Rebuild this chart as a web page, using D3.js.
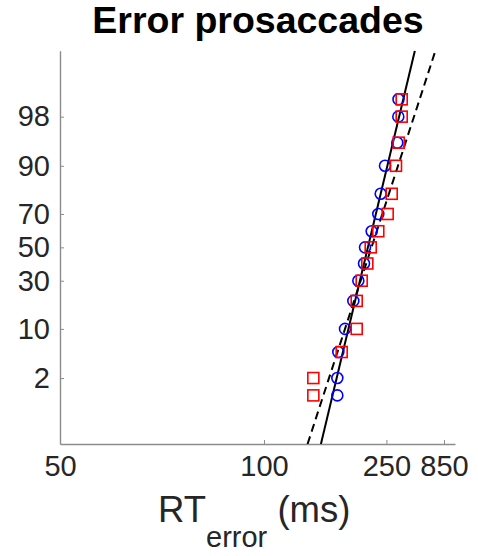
<!DOCTYPE html>
<html>
<head>
<meta charset="utf-8">
<script src="https://cdn.jsdelivr.net/npm/d3@7"></script>
<style>
  body { margin: 0; background: #fff; }
  text { font-family: "Liberation Sans", Arial, sans-serif; }
</style>
</head>
<body>
<svg id="chart" width="478" height="556"></svg>
<script>
// percentiles at which the RT quantiles were taken
var percentiles = [1, 2, 5, 10, 20, 30, 40, 50, 60, 70, 80, 90, 95, 98, 99];
// quantile RTs (ms), blue circles
var rtBlue = [156.1, 156.1, 157.3, 165.9, 177.9, 186.0, 196.2, 198.1, 211.8, 227.4, 233.7, 245.8, 288.5, 292.7, 293.5];
// quantile RTs (ms), red squares
var rtRed = [131.9, 131.9, 161.5, 183.3, 183.3, 191.9, 202.6, 209.7, 227.4, 254.0, 267.4, 283.3, 294.4, 307.7, 307.7];
// LATER fits: mean and sd of the rate (1/s)
var fitSolid = {mu: 4.907, sigma: 0.745};
var fitDashed = {mu: 4.73, sigma: 1.014};
var xTicks = [50, 100, 250, 850];
var yTicks = [2, 10, 30, 50, 70, 90, 98];

// inverse normal cdf (Acklam)
function probit(p) {
	var a = [-39.69683028665376, 220.9460984245205, -275.9285104469687, 138.3577518672690, -30.66479806614716, 2.506628277459239],
		b = [-54.47609879822406, 161.5858368580409, -155.6989798598866, 66.80131188771972, -13.28068155288572],
		c = [-0.007784894002430293, -0.3223964580411365, -2.400758277161838, -2.549732539343734, 4.374664141464968, 2.938163982698783],
		d = [0.007784695709041462, 0.3224671290700398, 2.445134137142996, 3.754408661907416],
		plow = 0.02425, q, r;
	if (p < plow) {
		q = Math.sqrt(-2 * Math.log(p));
		return (((((c[0]*q+c[1])*q+c[2])*q+c[3])*q+c[4])*q+c[5]) / ((((d[0]*q+d[1])*q+d[2])*q+d[3])*q+1);
	}
	if (p > 1 - plow) {
		q = Math.sqrt(-2 * Math.log(1 - p));
		return -(((((c[0]*q+c[1])*q+c[2])*q+c[3])*q+c[4])*q+c[5]) / ((((d[0]*q+d[1])*q+d[2])*q+d[3])*q+1);
	}
	q = p - 0.5; r = q * q;
	return (((((a[0]*r+a[1])*r+a[2])*r+a[3])*r+a[4])*r+a[5])*q / (((((b[0]*r+b[1])*r+b[2])*r+b[3])*r+b[4])*r+1);
}

var svg = d3.select("#chart"),
	pLeft = 60, pRight = 455, pTop = 50.7, pBottom = 444,
	zMax = probit(0.999);

// x is -1/RT (reciprocal axis), y is probit
var x = d3.scaleLinear().domain([-1/50, -1/1570]).range([pLeft, pRight]),
	y = d3.scaleLinear().domain([-zMax, zMax]).range([pBottom, pTop]);

function rx(rt) { return x(-1 / rt); }
function py(p) { return y(probit(p / 100)); }

svg.append("defs").append("clipPath").attr("id", "clip")
	.append("rect").attr("x", pLeft).attr("y", pTop).attr("width", pRight - pLeft).attr("height", pBottom - pTop);

// axes
var gx = svg.append("g").attr("transform", "translate(0," + pBottom + ")")
	.call(d3.axisBottom(x).tickValues(xTicks.map(function(v){ return -1 / v; }))
		.tickFormat(function(t){ return Math.round(-1 / t); })
		.tickSizeInner(-4).tickSizeOuter(0).tickPadding(11));
var gy = svg.append("g").attr("transform", "translate(" + pLeft + ",0)")
	.call(d3.axisLeft(y).tickValues(yTicks.map(function(p){ return probit(p / 100); }))
		.tickFormat(function(z, i){ return yTicks[i]; })
		.tickSizeInner(-4).tickSizeOuter(0).tickPadding(10));

[gx, gy].forEach(function(g) {
	g.select(".domain").attr("stroke", "#8c8c8c").attr("stroke-width", 1.4);
	g.selectAll(".tick line").attr("stroke", "#8c8c8c");
	g.selectAll(".tick text").attr("font-size", 29).attr("fill", "#262626")
		.attr("font-family", "Liberation Sans, Arial, sans-serif");
});
gx.selectAll(".tick text").attr("dy", "0.71em");

// fit lines
var plot = svg.append("g").attr("clip-path", "url(#clip)");
function fitLine(f) {
	return [-zMax, zMax].map(function(z) {
		return [x(-(f.mu - f.sigma * z) / 1000), y(z)];
	});
}
plot.append("path").datum(fitLine(fitSolid))
	.attr("d", d3.line()).attr("fill", "none").attr("stroke", "#000").attr("stroke-width", 2);
plot.append("path").datum(fitLine(fitDashed))
	.attr("d", d3.line()).attr("fill", "none").attr("stroke", "#000").attr("stroke-width", 2)
	.attr("stroke-dasharray", "8,5");

// quantile markers
svg.append("g").selectAll("circle").data(rtBlue).join("circle")
	.attr("cx", function(d){ return rx(d); })
	.attr("cy", function(d, i){ return py(percentiles[i]); })
	.attr("r", 5.5).attr("fill", "none").attr("stroke", "#0000ff").attr("stroke-width", 1.6);
svg.append("g").selectAll("rect").data(rtRed).join("rect")
	.attr("x", function(d){ return rx(d) - 5.5; })
	.attr("y", function(d, i){ return py(percentiles[i]) - 5.5; })
	.attr("width", 11).attr("height", 11)
	.attr("fill", "none").attr("stroke", "#ff0000").attr("stroke-width", 1.6);

// title
svg.append("text").attr("x", 258).attr("y", 33).attr("text-anchor", "middle")
	.attr("font-size", 37.5).attr("font-weight", "bold").attr("fill", "#000")
	.text("Error prosaccades");

// x label with subscript
var xl = svg.append("text").attr("x", 158).attr("y", 522).attr("fill", "#262626").attr("font-size", 36.5);
xl.append("tspan").text("RT");
xl.append("tspan").attr("dy", 25).attr("font-size", 29).text("error");
xl.append("tspan").attr("dy", -25).text(" (ms)");
</script>
</body>
</html>
